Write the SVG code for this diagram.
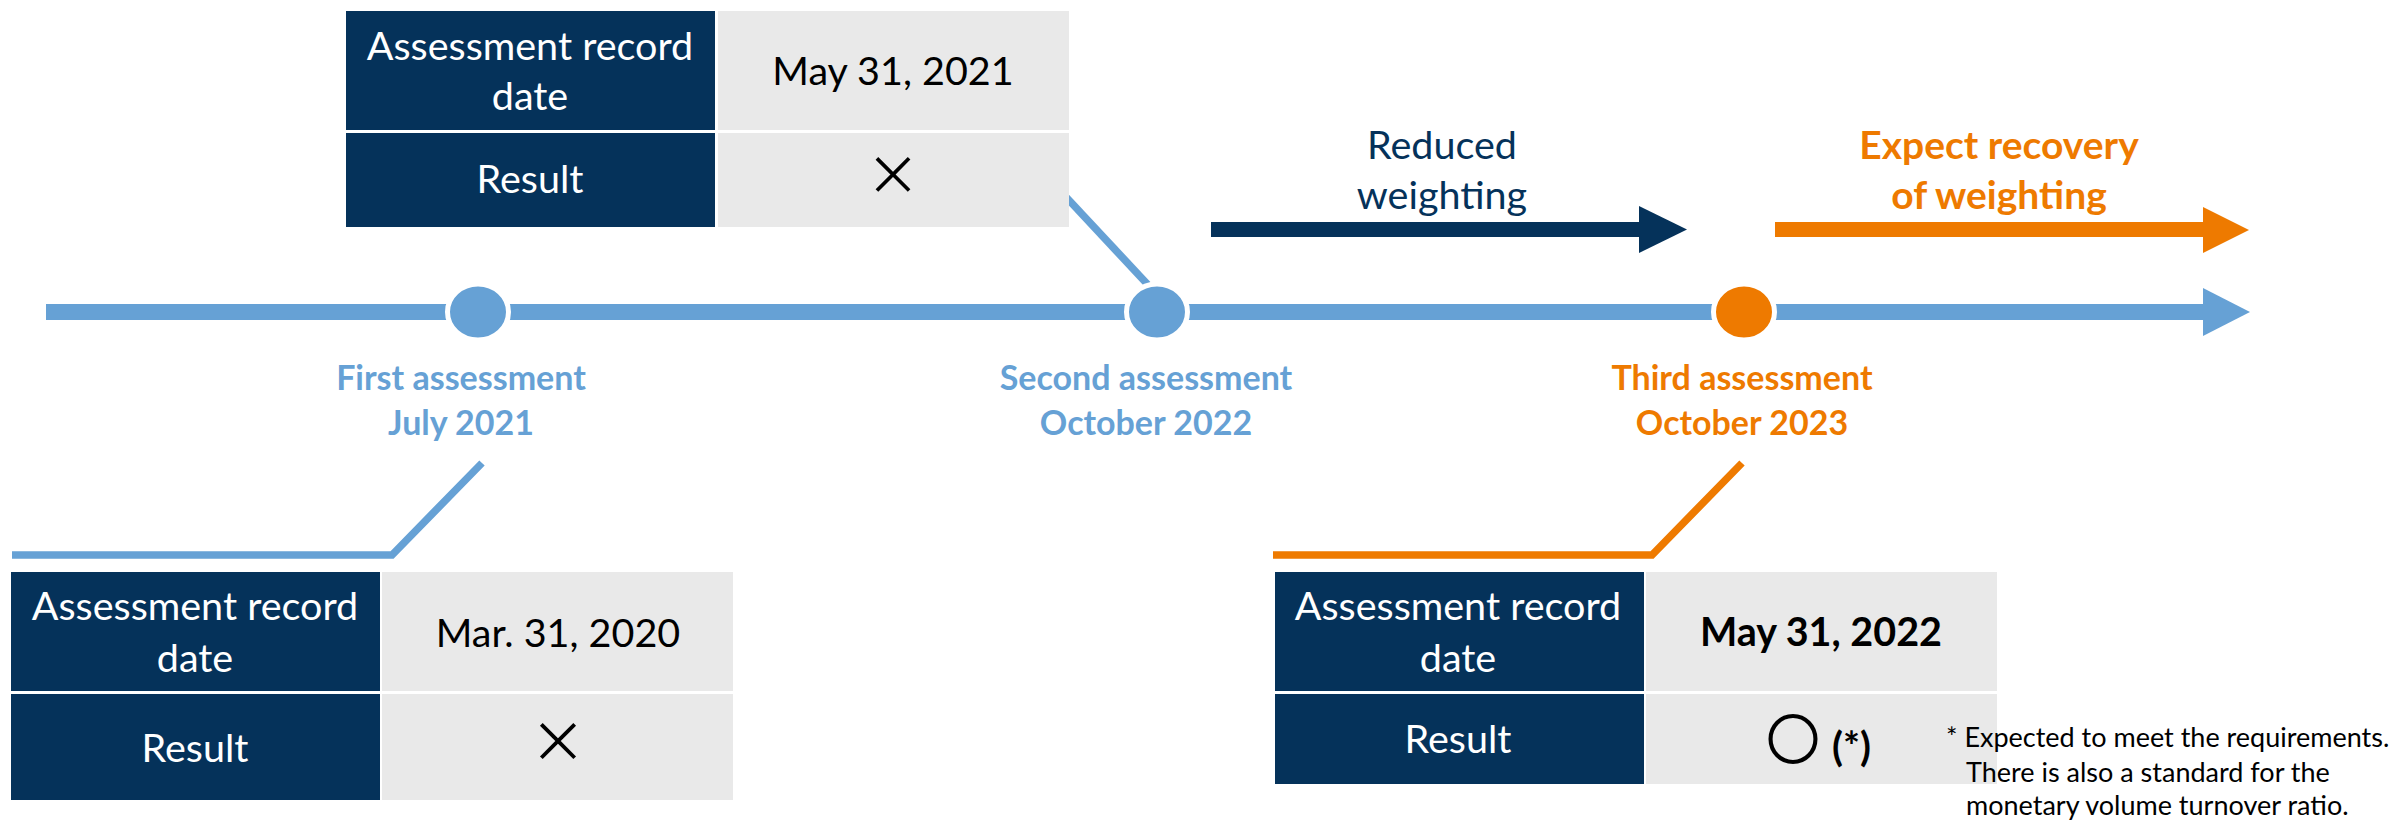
<svg xmlns="http://www.w3.org/2000/svg" width="2402" height="820" viewBox="0 0 2402 820">
  <style>
    text { font-family: Lato, "Liberation Sans", sans-serif; }
    .hd { fill: #05325a; }
    .cell { fill: #e9e9e9; }
    .th { fill: #ffffff; font-size: 39.5px; text-anchor: middle; }
    .td { fill: #000000; font-size: 39.5px; text-anchor: middle; }
    .mark { fill: #000000; text-anchor: middle; font-family: "Noto Sans CJK JP", sans-serif; }
    .lbl { font-size: 34px; font-weight: bold; text-anchor: middle; }
    .blue { fill: #66a1d5; }
    .orange { fill: #ee7a00; }
    .navy { fill: #05325a; }
    .dot { stroke: #ffffff; stroke-width: 5; }
    .lead { fill: none; stroke-width: 7.5; stroke-linejoin: miter; }
    .note { fill: #000000; font-size: 27px; }
  </style>

  <!-- timeline axis -->
  <g id="timeline">
    <rect class="blue" x="46" y="304" width="2158" height="16"/>
    <polygon class="blue" points="2203,288 2250,312 2203,336"/>
  </g>

  <!-- weighting arrows -->
  <g id="reduced-weighting">
    <rect class="navy" x="1211" y="222" width="429" height="15"/>
    <polygon class="navy" points="1639,206 1687,229.5 1639,253"/>
    <text class="navy" x="1442" y="159" font-size="39.5" text-anchor="middle">Reduced</text>
    <text class="navy" x="1442" y="209" font-size="39.5" text-anchor="middle">weighting</text>
  </g>
  <g id="recovery-weighting">
    <rect class="orange" x="1775" y="222" width="429" height="15"/>
    <polygon class="orange" points="2203,207 2249,230 2203,253"/>
    <text class="orange" x="1999" y="159" font-size="39" font-weight="bold" text-anchor="middle">Expect recovery</text>
    <text class="orange" x="1999" y="209" font-size="39" font-weight="bold" text-anchor="middle">of weighting</text>
  </g>

  <!-- leader lines from tables to milestones -->
  <g id="connectors">
    <polyline class="lead" stroke="#66a1d5" points="12,555 392,555 482,463"/>
    <polyline class="lead" stroke="#ee7a00" points="1273,555 1652,555 1742,463"/>
    <line class="lead" stroke="#66a1d5" x1="1066" y1="197" x2="1150" y2="287"/>
  </g>

  <!-- milestones -->
  <g id="first-assessment">
    <ellipse class="blue dot" cx="478" cy="312" rx="30.5" ry="28"/>
    <text class="lbl blue" x="461" y="390">First assessment</text>
    <text class="lbl blue" x="461" y="435">July 2021</text>
  </g>
  <g id="second-assessment">
    <ellipse class="blue dot" cx="1157" cy="312" rx="30.5" ry="28"/>
    <text class="lbl blue" x="1146" y="390">Second assessment</text>
    <text class="lbl blue" x="1146" y="435">October 2022</text>
  </g>
  <g id="third-assessment">
    <ellipse class="orange dot" cx="1744" cy="312" rx="30.5" ry="28"/>
    <text class="lbl orange" x="1742" y="390">Third assessment</text>
    <text class="lbl orange" x="1742" y="435">October 2023</text>
  </g>

  <!-- record table: second assessment -->
  <g id="table-second">
    <rect class="hd" x="346" y="11" width="369" height="119"/>
    <rect class="hd" x="346" y="133" width="369" height="94"/>
    <rect class="cell" x="718" y="11" width="351" height="119"/>
    <rect class="cell" x="718" y="133" width="351" height="94"/>
    <text class="th" x="530" y="60">Assessment record</text>
    <text class="th" x="530" y="110">date</text>
    <text class="th" x="530" y="193">Result</text>
    <text class="td" x="893" y="85">May 31, 2021</text>
    <text class="mark" x="893" y="195" font-size="54">×</text>
  </g>

  <!-- record table: first assessment -->
  <g id="table-first">
    <rect class="hd" x="11" y="572" width="369" height="119"/>
    <rect class="hd" x="11" y="694" width="369" height="106"/>
    <rect class="cell" x="382" y="572" width="351" height="119"/>
    <rect class="cell" x="382" y="694" width="351" height="106"/>
    <text class="th" x="195" y="620">Assessment record</text>
    <text class="th" x="195" y="672">date</text>
    <text class="th" x="195" y="762">Result</text>
    <text class="td" x="558" y="647">Mar. 31, 2020</text>
    <text class="mark" x="558" y="762" font-size="56">×</text>
  </g>

  <!-- record table: third assessment -->
  <g id="table-third">
    <rect class="hd" x="1275" y="572" width="369" height="119"/>
    <rect class="hd" x="1275" y="694" width="369" height="90"/>
    <rect class="cell" x="1646" y="572" width="351" height="119"/>
    <rect class="cell" x="1646" y="694" width="351" height="90"/>
    <text class="th" x="1458" y="620">Assessment record</text>
    <text class="th" x="1458" y="672">date</text>
    <text class="th" x="1458" y="753">Result</text>
    <text class="td" x="1821" y="646" font-weight="bold">May 31, 2022</text>
    <text class="mark" x="1793" y="759" font-size="52" stroke="#000000" stroke-width="2.2">○</text>
    <text x="1832" y="761" font-size="40" font-weight="bold" fill="#000000">(*)</text>
  </g>

  <!-- footnote -->
  <g id="footnote">
    <text class="note" x="1946" y="747">* Expected to meet the requirements.</text>
    <text class="note" x="1966" y="782">There is also a standard for the</text>
    <text class="note" x="1966" y="815">monetary volume turnover ratio.</text>
  </g>
</svg>
